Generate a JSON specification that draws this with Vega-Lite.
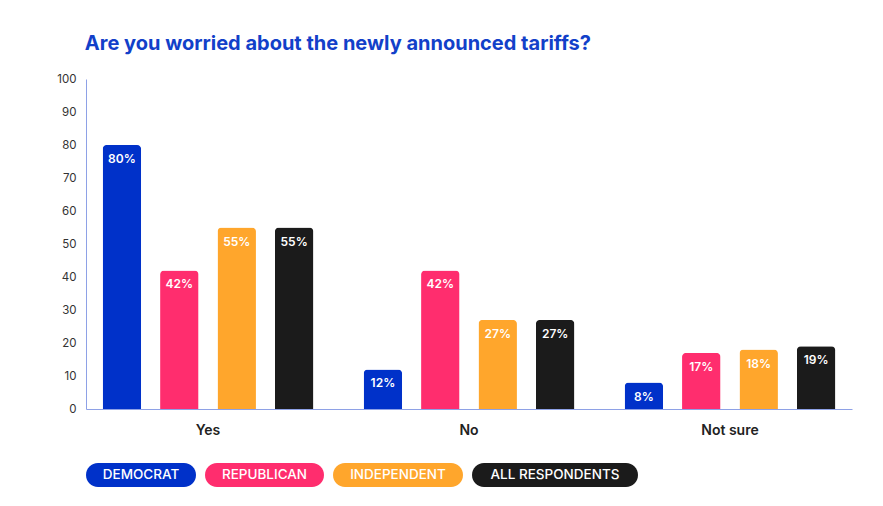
{
  "$schema": "https://vega.github.io/schema/vega-lite/v6.json",
  "background": "white",
  "padding": {"left": 56, "top": 34, "right": 10, "bottom": 10},
  "bounds": "flush",
  "spacing": 54,
  "config": {"font": "Inter", "view": {"stroke": null}},
  "datasets": {
    "survey": [
      {"answer": "Yes", "party": "DEMOCRAT", "value": 80},
      {"answer": "Yes", "party": "REPUBLICAN", "value": 42},
      {"answer": "Yes", "party": "INDEPENDENT", "value": 55},
      {"answer": "Yes", "party": "ALL RESPONDENTS", "value": 55},
      {"answer": "No", "party": "DEMOCRAT", "value": 12},
      {"answer": "No", "party": "REPUBLICAN", "value": 42},
      {"answer": "No", "party": "INDEPENDENT", "value": 27},
      {"answer": "No", "party": "ALL RESPONDENTS", "value": 27},
      {"answer": "Not sure", "party": "DEMOCRAT", "value": 8},
      {"answer": "Not sure", "party": "REPUBLICAN", "value": 17},
      {"answer": "Not sure", "party": "INDEPENDENT", "value": 18},
      {"answer": "Not sure", "party": "ALL RESPONDENTS", "value": 19}
    ],
    "parties": [
      {"party": "DEMOCRAT"},
      {"party": "REPUBLICAN"},
      {"party": "INDEPENDENT"},
      {"party": "ALL RESPONDENTS"}
    ]
  },
  "vconcat": [
    {
      "width": 766,
      "height": 330,
      "title": {
        "text": "Are you worried about the newly announced tariffs?",
        "anchor": "start",
        "fontSize": 20,
        "fontWeight": 700,
        "color": "#1240c9",
        "offset": 19,
        "dx": 28
      },
      "data": {"name": "survey"},
      "transform": [{"calculate": "datum.value + '%'", "as": "label"}],
      "encoding": {
        "x": {
          "field": "answer",
          "type": "nominal",
          "sort": ["Yes", "No", "Not sure"],
          "scale": {"paddingInner": 0.12, "paddingOuter": 0.0275},
          "axis": {
            "title": null,
            "labelAngle": 0,
            "ticks": false,
            "domainColor": "#8ea1e6",
            "labelFontSize": 14,
            "labelFontWeight": 600,
            "labelColor": "#222222",
            "labelPadding": 14
          }
        },
        "xOffset": {
          "field": "party",
          "sort": ["DEMOCRAT", "REPUBLICAN", "INDEPENDENT", "ALL RESPONDENTS"],
          "scale": {"paddingInner": 0.33, "paddingOuter": 0.165}
        },
        "y": {
          "field": "value",
          "type": "quantitative",
          "scale": {"domain": [0, 100]},
          "axis": {
            "title": null,
            "grid": false,
            "ticks": false,
            "values": [0, 10, 20, 30, 40, 50, 60, 70, 80, 90, 100],
            "domainColor": "#8ea1e6",
            "labelFontSize": 11.5,
            "labelColor": "#333333",
            "labelPadding": 10
          }
        }
      },
      "layer": [
        {
          "mark": {"type": "bar", "cornerRadiusTopLeft": 4, "cornerRadiusTopRight": 4},
          "encoding": {
            "color": {
              "field": "party",
              "type": "nominal",
              "scale": {
                "domain": ["DEMOCRAT", "REPUBLICAN", "INDEPENDENT", "ALL RESPONDENTS"],
                "range": ["#0031c9", "#ff2d6e", "#ffa62c", "#1b1b1b"]
              },
              "legend": null
            }
          }
        },
        {
          "mark": {"type": "text", "baseline": "top", "dy": 9, "color": "white", "fontSize": 12, "fontWeight": 600},
          "encoding": {"text": {"field": "label"}}
        }
      ]
    },
    {
      "spacing": 9,
      "hconcat": [
        {
          "width": 110,
          "height": 24,
          "data": {"name": "parties"},
          "transform": [{"filter": "datum.party === 'DEMOCRAT'"}],
          "encoding": {"x": {"field": "party", "type": "nominal", "axis": null, "scale": {"paddingInner": 0, "paddingOuter": 0}}},
          "layer": [
            {"mark": {"type": "bar", "cornerRadius": 12, "color": "#0031c9"}},
            {"mark": {"type": "text", "color": "white", "fontSize": 13.5, "fontWeight": 500}, "encoding": {"text": {"field": "party"}}}
          ]
        },
        {
          "width": 119,
          "height": 24,
          "data": {"name": "parties"},
          "transform": [{"filter": "datum.party === 'REPUBLICAN'"}],
          "encoding": {"x": {"field": "party", "type": "nominal", "axis": null, "scale": {"paddingInner": 0, "paddingOuter": 0}}},
          "layer": [
            {"mark": {"type": "bar", "cornerRadius": 12, "color": "#ff2d6e"}},
            {"mark": {"type": "text", "color": "white", "fontSize": 13.5, "fontWeight": 500}, "encoding": {"text": {"field": "party"}}}
          ]
        },
        {
          "width": 130,
          "height": 24,
          "data": {"name": "parties"},
          "transform": [{"filter": "datum.party === 'INDEPENDENT'"}],
          "encoding": {"x": {"field": "party", "type": "nominal", "axis": null, "scale": {"paddingInner": 0, "paddingOuter": 0}}},
          "layer": [
            {"mark": {"type": "bar", "cornerRadius": 12, "color": "#ffa62c"}},
            {"mark": {"type": "text", "color": "white", "fontSize": 13.5, "fontWeight": 500}, "encoding": {"text": {"field": "party"}}}
          ]
        },
        {
          "width": 166,
          "height": 24,
          "data": {"name": "parties"},
          "transform": [{"filter": "datum.party === 'ALL RESPONDENTS'"}],
          "encoding": {"x": {"field": "party", "type": "nominal", "axis": null, "scale": {"paddingInner": 0, "paddingOuter": 0}}},
          "layer": [
            {"mark": {"type": "bar", "cornerRadius": 12, "color": "#1b1b1b"}},
            {"mark": {"type": "text", "color": "white", "fontSize": 13.5, "fontWeight": 500}, "encoding": {"text": {"field": "party"}}}
          ]
        }
      ]
    }
  ]
}
